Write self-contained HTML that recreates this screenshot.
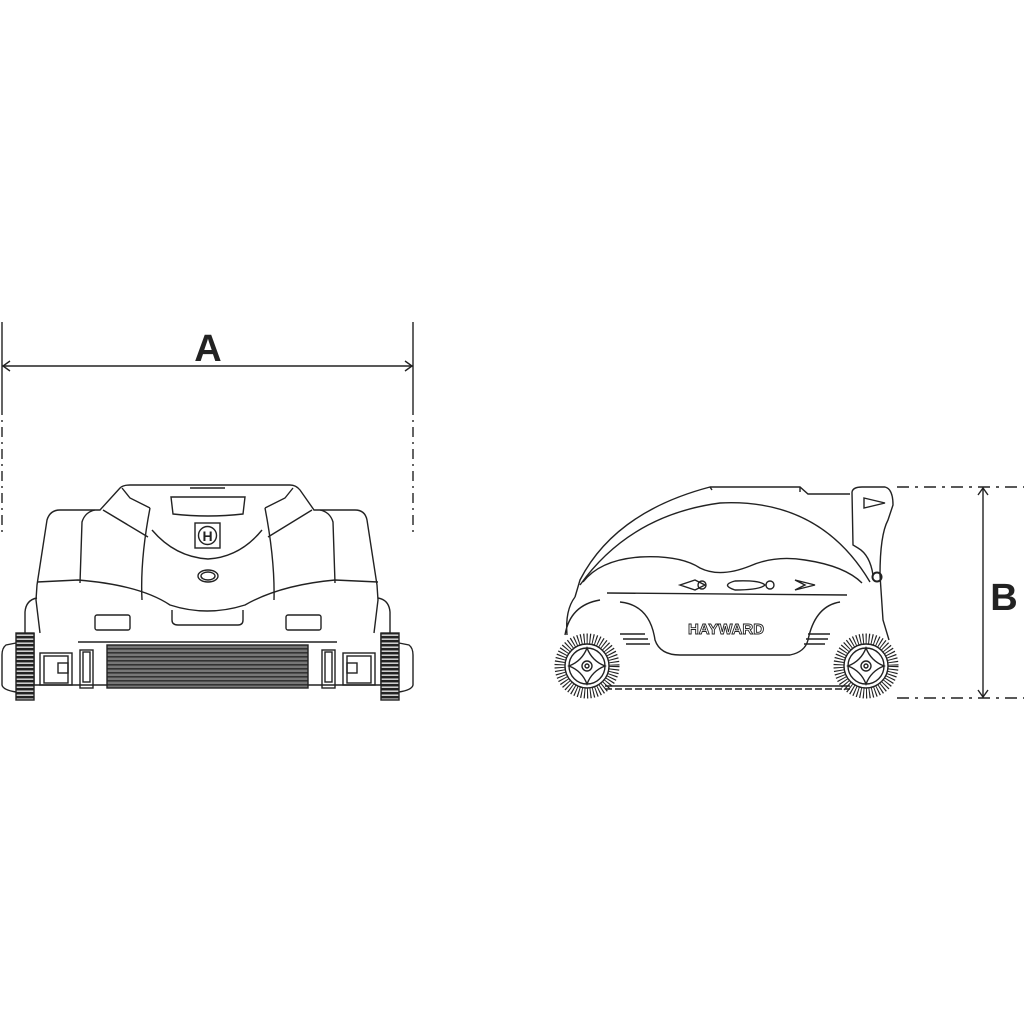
<!DOCTYPE html>
<html><head><meta charset="utf-8"><style>html,body{margin:0;padding:0;background:#fff}svg{display:block}</style></head>
<body>
<svg width="1024" height="1024" viewBox="0 0 1024 1024" xmlns="http://www.w3.org/2000/svg" font-family="Liberation Sans, sans-serif">
<defs>
<pattern id="br" width="6" height="4" patternUnits="userSpaceOnUse">
<rect width="6" height="4" fill="#777"/><rect y="0" width="6" height="1.6" fill="#333"/>
</pattern>
<pattern id="wh" width="5" height="4" patternUnits="userSpaceOnUse">
<rect width="5" height="4" fill="#ccc"/><rect width="5" height="2.4" fill="#222"/>
</pattern>
</defs>
<g stroke="#222" stroke-width="1.4" fill="none">
<line x1="2" y1="322" x2="2" y2="405"/><line x1="2" y1="405" x2="2" y2="535" stroke-dasharray="10,5,2,5"/>
<line x1="413" y1="322" x2="413" y2="405"/><line x1="413" y1="405" x2="413" y2="535" stroke-dasharray="10,5,2,5"/>
<line x1="2" y1="366" x2="413" y2="366"/>
<path d="M10,361 L3,366 L10,371 M405,361 L412,366 L405,371"/>
<line x1="897" y1="487" x2="1024" y2="487" stroke-dasharray="12,6,3,6"/>
<line x1="897" y1="698" x2="1024" y2="698" stroke-dasharray="12,6,3,6"/>
<line x1="983" y1="487" x2="983" y2="698"/>
<path d="M978,495 L983,488 L988,495 M978,690 L983,697 L988,690"/>

<!-- FRONT VIEW -->
<path d="M40,633 L36,600 L37,585 L47,520 Q50,510 60,510 L100,510 L120,488 Q123,485 130,485 L290,485 Q296,485 300,490 L314,510 L355,510 Q365,510 367,520 L377,585 L378,600 L374,633"/>
<path d="M37,582 L78,580 Q140,585 170,605 Q207,617 245,605 Q280,585 335,580 L378,582"/>
<path d="M80,583 L82,522 Q85,512 95,510 M335,583 L333,522 Q330,512 320,510"/>
<path d="M103,510 L148,537 M312,510 L268,537"/>
<path d="M122,488 L130,498 L150,508 M293,488 L285,498 L265,508"/>
<path d="M150,508 Q140,560 142,600 M265,508 Q275,560 274,600"/>
<path d="M152,530 Q175,557 208,559 Q240,557 262,530"/>
<path d="M171,497 L245,497 L243,514 Q208,518 173,514 Z"/>
<path d="M190,488 L225,488"/>
<rect x="195" y="523" width="25" height="25"/>
<circle cx="207.5" cy="535.5" r="9"/>
<text x="207.5" y="541" font-size="14" font-weight="bold" fill="#222" stroke="none" text-anchor="middle">H</text>
<ellipse cx="208" cy="576" rx="10" ry="6"/><ellipse cx="208" cy="576" rx="7" ry="4"/>
<rect x="95" y="615" width="35" height="15" rx="2"/>
<rect x="286" y="615" width="35" height="15" rx="2"/>
<path d="M172,610 L172,620 Q172,625 178,625 L238,625 Q243,625 243,620 L243,610"/>
<path d="M37,598 Q26,600 25,612 L25,633 M378,598 Q389,600 390,612 L390,633"/>
<line x1="78" y1="642" x2="337" y2="642"/>
<path d="M34,633 L34,685 M381,633 L381,685 M34,685 L381,685"/>
<rect x="107" y="645" width="201" height="43" fill="url(#br)" stroke="#222"/>
<rect x="16" y="633" width="18" height="67" fill="url(#wh)"/>
<rect x="381" y="633" width="18" height="67" fill="url(#wh)"/>
<path d="M16,643 L6,645 Q2,648 2,655 L2,685 Q3,690 16,692"/>
<path d="M399,643 L409,645 Q413,648 413,655 L413,685 Q412,690 399,692"/>
<rect x="40" y="653" width="32" height="32"/><rect x="44" y="656" width="24" height="27"/><rect x="58" y="663" width="10" height="10"/>
<rect x="343" y="653" width="32" height="32"/><rect x="347" y="656" width="24" height="27"/><rect x="347" y="663" width="10" height="10"/>
<rect x="80" y="650" width="13" height="38"/><rect x="83" y="652" width="7" height="30"/>
<rect x="322" y="650" width="13" height="38"/><rect x="325" y="652" width="7" height="30"/>

<!-- SIDE VIEW -->
<path d="M575,597 L580,580 Q615,512 710,487 L800,487 L808,494 L850,494"/>
<path d="M710,487 L712,490 M800,487 L800,492"/>
<path d="M580,585 Q630,515 720,503 Q820,498 870,582"/>
<path d="M583,582 Q600,560 640,557 Q680,555 700,568 Q720,578 750,566 Q775,555 805,560 Q845,566 862,583"/>
<path d="M607,593 L847,595"/>
<path d="M680,585 L695,580 L705,585 L695,590 Z M735,581 Q760,580 765,585 Q760,590 735,590 Q720,585 735,581 Z M795,580 L815,585 L795,590 L805,585 Z"/>
<circle cx="702" cy="585" r="4"/><circle cx="770" cy="585" r="4"/>
<path d="M575,597 Q565,610 567,635 M600,600 Q570,605 565,635"/>
<path d="M852,492 Q853,487 862,487 L885,487 Q893,489 893,505 L888,520 Q880,535 880,575 L883,620 L889,640"/>
<path d="M852,492 L853,545 L858,548 Q870,555 873,575"/>
<path d="M864,498 L885,503 L864,508 Z"/>
<circle cx="877" cy="577" r="4.5" stroke-width="2"/>
<path d="M620,602 Q650,605 655,640 Q660,655 680,655 L790,655 Q805,652 808,640 Q815,606 840,602"/>
<path d="M620,634 L645,634 M623,639 L648,639 M626,644 L650,644 M830,634 L808,634 M828,639 L806,639 M825,644 L804,644"/>
<text x="726" y="634" font-size="15" font-weight="bold" fill="#fff" stroke="#222" stroke-width="0.9" text-anchor="middle">HAYWARD</text>
<path d="M605,686 L850,686"/>
<line x1="605" y1="689" x2="850" y2="689" stroke-dasharray="7,3"/>
<g transform="translate(587,666)">
<circle r="27.5" stroke-width="10" stroke-dasharray="1.1,1.9"/>
<circle r="22" fill="#fff"/><circle r="18"/><circle r="5"/><circle r="2"/>
<path d="M0,-18 Q5,-5 18,0 Q5,5 0,18 Q-5,5 -18,0 Q-5,-5 0,-18 Z"/>
</g>
<g transform="translate(866,666)">
<circle r="27.5" stroke-width="10" stroke-dasharray="1.1,1.9"/>
<circle r="22" fill="#fff"/><circle r="18"/><circle r="5"/><circle r="2"/>
<path d="M0,-18 Q5,-5 18,0 Q5,5 0,18 Q-5,5 -18,0 Q-5,-5 0,-18 Z"/>
</g>
</g>
<text x="208" y="361" font-size="38" font-weight="bold" fill="#222" text-anchor="middle">A</text>
<text x="1004" y="610" font-size="38" font-weight="bold" fill="#222" text-anchor="middle">B</text>
</svg>
</body></html>
